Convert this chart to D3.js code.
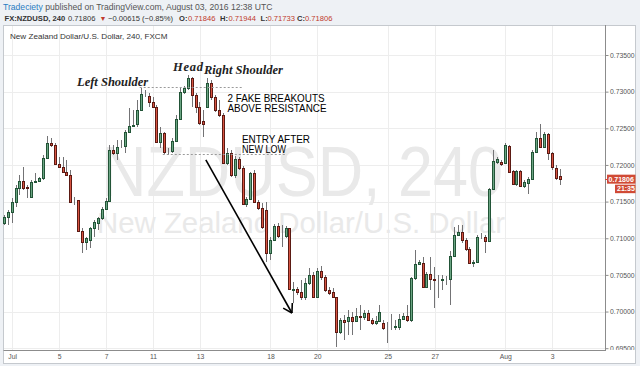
<!DOCTYPE html>
<html><head><meta charset="utf-8">
<script src="https://cdnjs.cloudflare.com/ajax/libs/d3/7.8.5/d3.min.js"></script>
<style>body{margin:0;background:#eef1f5;}svg{display:block}</style>
</head><body>
<svg id="c" width="640" height="366"></svg>
<script>
// ---- DATA (NZDUSD 240-min, FXCM) ----
const openP = [0.71208,0.71290,0.71358,0.71494,0.71685,0.71781,0.71699,0.71563,0.71767,0.71781,
0.71822,0.72095,0.72299,0.72272,0.72013,0.71972,0.71904,0.71863,0.71508,0.71522,
0.71099,0.70949,0.70976,0.71140,0.71208,0.71276,0.71399,0.71508,0.72204,0.72163,
0.72259,0.72259,0.72450,0.72531,0.72559,0.72750,0.72968,0.72941,0.72859,0.72791,
0.72313,0.72436,0.72190,0.72190,0.72327,0.72627,0.72995,0.73050,0.73186,0.72954,
0.72791,0.72600,0.72791,0.73118,0.72927,0.72750,0.72681,0.72027,0.72163,0.71863,
0.72081,0.71958,0.71467,0.71535,0.71890,0.71494,0.71413,0.71385,0.70799,0.70976,
0.71167,0.71031,0.71031,0.71140,0.70294,0.70308,0.70267,0.70198,0.70389,0.70499,
0.70198,0.70553,0.70471,0.70294,0.70267,0.70198,0.69721,0.69885,0.69871,0.69926,
0.69871,0.69939,0.69926,0.69980,0.69885,0.69844,0.69871,0.69844,0.69789,0.69789,
0.69789,0.69789,0.69898,0.69939,0.69885,0.70458,0.70649,0.70662,0.70335,0.70512,
0.70444,0.70430,0.70430,0.70444,0.70444,0.70758,0.71044,0.71085,0.70976,0.70853,
0.70662,0.70676,0.71017,0.71017,0.70962,0.71672,0.72040,0.72040,0.72027,0.72259,
0.71917,0.71740,0.71917,0.71713,0.71754,0.71808,0.72177,0.72368,0.72245,0.72422,
0.72163,0.71958,0.71846];
const highP = [0.71317,0.71385,0.71549,0.71726,0.71863,0.71972,0.71726,0.71795,0.71890,0.71836,
0.72136,0.72395,0.72368,0.72299,0.72108,0.72108,0.72067,0.71931,0.71563,0.71522,
0.71140,0.71017,0.71153,0.71249,0.71290,0.71426,0.71549,0.72272,0.72272,0.72340,
0.72340,0.72477,0.72777,0.72750,0.72886,0.73050,0.73023,0.72982,0.72927,0.72818,
0.72518,0.72450,0.72231,0.72368,0.72681,0.73050,0.73077,0.73227,0.73200,0.72982,
0.72859,0.72750,0.73186,0.73159,0.72954,0.72886,0.72709,0.72231,0.72204,0.72122,
0.72108,0.71986,0.71563,0.71904,0.71931,0.71522,0.71481,0.71494,0.71017,0.71194,
0.71208,0.71181,0.71167,0.71140,0.70403,0.70335,0.70430,0.70458,0.70594,0.70539,
0.70594,0.70621,0.70499,0.70335,0.70321,0.70198,0.69912,0.69953,0.70021,0.69994,
0.70048,0.70089,0.70021,0.70021,0.69912,0.69939,0.70089,0.69885,0.69857,0.69967,
0.69885,0.69967,0.69980,0.70089,0.70471,0.70840,0.70703,0.70744,0.70539,0.70744,
0.70608,0.70499,0.70499,0.70485,0.70826,0.71153,0.71181,0.71181,0.71003,0.70881,
0.70703,0.71044,0.71072,0.71044,0.71685,0.72204,0.72108,0.72067,0.72299,0.72272,
0.71931,0.71931,0.71931,0.71795,0.71836,0.72204,0.72450,0.72559,0.72450,0.72436,
0.72177,0.71999,0.71944];
const lowP = [0.71181,0.71181,0.71208,0.71426,0.71590,0.71658,0.71549,0.71563,0.71767,0.71767,
0.71795,0.72095,0.72245,0.71999,0.71958,0.71904,0.71863,0.71494,0.71454,0.71099,
0.70799,0.70840,0.70867,0.71017,0.71112,0.71249,0.71385,0.71494,0.72136,0.72067,
0.72231,0.72163,0.72436,0.72518,0.72518,0.72736,0.72927,0.72791,0.72777,0.72313,
0.72231,0.72149,0.72136,0.72163,0.72313,0.72613,0.72968,0.73023,0.72791,0.72709,
0.72545,0.72381,0.72777,0.72886,0.72722,0.72654,0.72027,0.71999,0.71836,0.71822,
0.71931,0.71454,0.71426,0.71522,0.71494,0.71385,0.71126,0.70676,0.70703,0.70962,
0.71003,0.70881,0.71003,0.70294,0.70117,0.70226,0.70158,0.70158,0.70362,0.70198,
0.70185,0.70430,0.70267,0.70226,0.70185,0.69516,0.69694,0.69612,0.69680,0.69680,
0.69857,0.69748,0.69885,0.69871,0.69816,0.69816,0.69857,0.69748,0.69571,0.69748,
0.69748,0.69748,0.69885,0.69857,0.69857,0.70430,0.70635,0.70321,0.70321,0.70294,
0.70048,0.70185,0.70294,0.70362,0.70089,0.70744,0.71031,0.70935,0.70826,0.70649,
0.70608,0.70662,0.70990,0.70799,0.70949,0.71658,0.72013,0.71986,0.72013,0.71904,
0.71726,0.71713,0.71699,0.71685,0.71604,0.71795,0.72163,0.72231,0.72231,0.72067,
0.71931,0.71795,0.71733];
const closeP = [0.71290,0.71358,0.71494,0.71685,0.71781,0.71685,0.71685,0.71767,0.71781,0.71822,
0.72095,0.72299,0.72272,0.72013,0.71972,0.71904,0.71863,0.71494,0.71508,0.71099,
0.70949,0.71003,0.71140,0.71222,0.71276,0.71399,0.71508,0.72204,0.72163,0.72245,
0.72259,0.72450,0.72531,0.72545,0.72750,0.72968,0.72968,0.72859,0.72791,0.72313,
0.72436,0.72177,0.72190,0.72327,0.72627,0.72995,0.73050,0.73186,0.72954,0.72791,
0.72572,0.72559,0.73118,0.72927,0.72750,0.72681,0.72027,0.72163,0.71863,0.72081,
0.71958,0.71467,0.71535,0.71890,0.71494,0.71413,0.71153,0.70799,0.70976,0.71167,
0.71031,0.71031,0.71140,0.70308,0.70308,0.70267,0.70198,0.70389,0.70499,0.70198,
0.70553,0.70471,0.70294,0.70253,0.70198,0.69721,0.69885,0.69857,0.69926,0.69871,
0.69939,0.69926,0.69980,0.69885,0.69844,0.69871,0.69994,0.69775,0.69789,0.69789,
0.69803,0.69898,0.69939,0.69885,0.70458,0.70649,0.70676,0.70335,0.70512,0.70444,
0.70430,0.70430,0.70444,0.70444,0.70758,0.71044,0.71085,0.70976,0.70853,0.70662,
0.70676,0.71017,0.71017,0.70962,0.71672,0.72054,0.72081,0.72013,0.72272,0.71904,
0.71740,0.71917,0.71713,0.71767,0.71808,0.72177,0.72368,0.72245,0.72422,0.72163,
0.71972,0.71822,0.71806];
const priceTicks = [0.695,0.700,0.705,0.710,0.715,0.720,0.725,0.730,0.735];
const timeTickIdx = [2,14,26,38,50,68,80,98,110,128,140];
const timeTickLabels = ["Jul","5","7","11","13","18","20","25","27","Aug","3"];
const lastPrice = 0.71806, lastChange = "\u22120.00615 (\u22120.85%)";
const ohlcHeader = {O:"0.71846", H:"0.71944", L:"0.71733", C:"0.71806"};
// annotations in data space [barIndex, price]
const resistance = {from:34.6, to:60.7, price:0.73057};
const support = {from:40.5, to:72.2, price:0.72149};
const arrow = {from:[51.5,0.72068], to:[73.5,0.69980]};

// ---- CHART ----
const svg = d3.select("#c");
const N = openP.length;
const SANS = "Liberation Sans, Arial, sans-serif";
const plot = {l:3.5, t:25.5, r:605, b:350};
const x = d3.scaleLinear().domain([0, N-1]).range([4.3, 560]);
const y = d3.scaleLinear().domain([0.695, 0.735]).range([348.2, 55]);

// header
const hdr = svg.append("g").attr("font-family",SANS);
const l1 = hdr.append("text").attr("x",3).attr("y",10).attr("font-size",8.6);
l1.append("tspan").attr("fill","#2a7dc2").text("Tradeciety");
l1.append("tspan").attr("fill","#555").text(" published on TradingView.com, August 03, 2016 12:38 UTC");
const l2 = hdr.append("text").attr("y",20.5).attr("fill","#333").attr("font-size",7.6);
l2.append("tspan").attr("x",4.5).attr("font-weight","bold").text("FX:NZDUSD, 240");
l2.append("tspan").attr("x",68).text(lastPrice.toFixed(5));
l2.append("tspan").attr("x",99.5).attr("fill","#c0392b").attr("font-size",7).text("\u25BC");
l2.append("tspan").attr("x",108).text(lastChange);
const oh = [["O:",179,188],["H:",220,228.5],["L:",260.5,267.5],["C:",297,305]];
oh.forEach(([k,a,b])=>{
  l2.append("tspan").attr("x",a).attr("font-weight","bold").attr("fill","#333").text(k);
  l2.append("tspan").attr("x",b).attr("fill","#c0392b").text(ohlcHeader[k[0]]);
});

// chart frame
svg.append("rect").attr("x",3.5).attr("y",25.5).attr("width",632).attr("height",338)
  .attr("fill","#fff").attr("stroke","#c5c9ce");

// grid
const grid = svg.append("g").attr("stroke","#ededed").attr("shape-rendering","crispEdges");
grid.selectAll("line.h").data(priceTicks).join("line")
  .attr("x1",4).attr("x2",plot.r).attr("y1",d=>Math.round(y(d))+0.5).attr("y2",d=>Math.round(y(d))+0.5);
grid.selectAll("line.v").data(timeTickIdx).join("line")
  .attr("y1",26).attr("y2",plot.b).attr("x1",d=>Math.round(x(d))+0.5).attr("x2",d=>Math.round(x(d))+0.5);

// watermark
const wm = svg.append("g").attr("font-family",SANS).attr("fill","#e9e9e9");
wm.append("text").attr("x",101).attr("y",196).attr("font-size",70)
  .attr("textLength",402).attr("lengthAdjust","spacingAndGlyphs").text("NZDUSD, 240");
wm.append("text").attr("x",97).attr("y",233).attr("font-size",29)
  .attr("textLength",408).attr("lengthAdjust","spacingAndGlyphs").text("New Zealand Dollar/U.S. Dollar");

// title
svg.append("text").attr("x",10).attr("y",39).attr("font-family",SANS)
  .attr("font-size",8.1).attr("fill","#333").text("New Zealand Dollar/U.S. Dollar, 240, FXCM");

// candles
const upFill="#6ba583", upLine="#225437", dnFill="#d75442", dnLine="#5b1a13", wickC="#737375";
const cg = svg.append("g").attr("shape-rendering","crispEdges");
const idx = d3.range(N);
cg.selectAll("line.w").data(idx).join("line")
  .attr("x1",i=>Math.round(x(i)-1.5)+1.5).attr("x2",i=>Math.round(x(i)-1.5)+1.5)
  .attr("y1",i=>y(highP[i])).attr("y2",i=>y(lowP[i])).attr("stroke",wickC);
cg.selectAll("rect.b").data(idx).join("rect")
  .attr("x",i=>Math.round(x(i)-1.5)+0.5)
  .attr("y",i=>Math.round(y(Math.max(openP[i],closeP[i])))+0.5)
  .attr("width",2)
  .attr("height",i=>Math.max(0, Math.round(y(Math.min(openP[i],closeP[i])))-Math.round(y(Math.max(openP[i],closeP[i])))))
  .attr("fill",i=>closeP[i]>=openP[i]?upFill:dnFill)
  .attr("stroke",i=>Math.abs(closeP[i]-openP[i])<0.00004?"#222":(closeP[i]>=openP[i]?upLine:dnLine));

// plot borders
svg.append("line").attr("x1",605.5).attr("x2",605.5).attr("y1",25).attr("y2",350.5).attr("stroke","#8c8c8c");
svg.append("line").attr("x1",3.5).attr("x2",606).attr("y1",350.5).attr("y2",350.5).attr("stroke","#8c8c8c");

// price axis (clip in the axis group's own coordinates)
svg.append("clipPath").attr("id","pc").append("rect").attr("x",-2).attr("y",26).attr("width",32).attr("height",324);
const ya = svg.append("g").attr("transform","translate(605.5,0)").attr("clip-path","url(#pc)")
  .call(d3.axisRight(y).tickValues(priceTicks).tickFormat(d3.format(".5f")).tickSize(3).tickPadding(1.5));
ya.select(".domain").remove();
ya.selectAll("text").attr("font-family",SANS).attr("font-size",6.8).attr("fill","#555");
ya.selectAll("line").attr("stroke","#8c8c8c");

// time axis
const xa = svg.append("g").attr("transform","translate(0,350.5)")
  .call(d3.axisBottom(x).tickValues(timeTickIdx).tickFormat((d,i)=>timeTickLabels[i]).tickSize(0).tickPadding(3.5));
xa.select(".domain").remove();
xa.selectAll("text").attr("font-family",SANS).attr("font-size",6.8).attr("fill","#555");

// last price label
const ly = y(lastPrice);
const red = "#d04a35";
svg.append("line").attr("x1",605).attr("x2",608).attr("y1",Math.round(ly)+0.5).attr("y2",Math.round(ly)+0.5).attr("stroke",red);
svg.append("rect").attr("x",607).attr("y",ly-4.5).attr("width",28.5).attr("height",9).attr("fill",red);
svg.append("text").attr("x",608.5).attr("y",ly+2.6).attr("font-family",SANS)
  .attr("font-size",7).attr("font-weight","bold").attr("fill","#fff").text(lastPrice.toFixed(5));
svg.append("rect").attr("x",615).attr("y",ly+5.5).attr("width",20.5).attr("height",8.5).attr("fill",red);
svg.append("text").attr("x",617).attr("y",ly+12.3).attr("font-family",SANS)
  .attr("font-size",7).attr("font-weight","bold").attr("fill","#fff").text("21:35");

// annotations
const an = svg.append("g");
an.append("line").attr("x1",x(resistance.from)).attr("x2",x(resistance.to))
  .attr("y1",Math.round(y(resistance.price))+0.5).attr("y2",Math.round(y(resistance.price))+0.5)
  .attr("stroke","#9a9a9a").attr("stroke-dasharray","2,2");
an.append("line").attr("x1",x(support.from)).attr("x2",x(support.to))
  .attr("y1",Math.round(y(support.price))+0.5).attr("y2",Math.round(y(support.price))+0.5)
  .attr("stroke","#9a9a9a").attr("stroke-dasharray","2,2");
const ax1=x(arrow.from[0]), ay1=y(arrow.from[1]), ax2=x(arrow.to[0]), ay2=y(arrow.to[1]);
an.append("line").attr("x1",ax1).attr("y1",ay1).attr("x2",ax2).attr("y2",ay2).attr("stroke","#000").attr("stroke-width",1.6);
const ang = Math.atan2(ay2-ay1, ax2-ax1);
[0.55,-0.55].forEach(d=>{
  an.append("line").attr("x1",ax2).attr("y1",ay2)
    .attr("x2",ax2-10*Math.cos(ang+d)).attr("y2",ay2-10*Math.sin(ang+d))
    .attr("stroke","#000").attr("stroke-width",1.6);
});
const lab = an.append("g").attr("font-family","Liberation Serif, serif").attr("font-style","italic")
  .attr("font-weight","bold").attr("font-size",12.5).attr("fill","#222");
lab.append("text").attr("x",77).attr("y",85.5).text("Left Shoulder");
lab.append("text").attr("x",173).attr("y",70.5).attr("textLength",30).text("Head");
lab.append("text").attr("x",204).attr("y",73.5).text("Right Shoulder");
const tx = an.append("g").attr("font-family",SANS).attr("font-size",10.2).attr("fill","#000")
  .attr("lengthAdjust","spacingAndGlyphs");
[["2 FAKE BREAKOUTS",227.5,102,97],["ABOVE RESISTANCE",227.5,111.5,99],["ENTRY AFTER",242,143,68],["NEW LOW",242,153,44]]
  .forEach(([t,a,b,w])=>tx.append("text").attr("x",a).attr("y",b).attr("textLength",w)
    .attr("lengthAdjust","spacingAndGlyphs").text(t));
</script></body></html>
